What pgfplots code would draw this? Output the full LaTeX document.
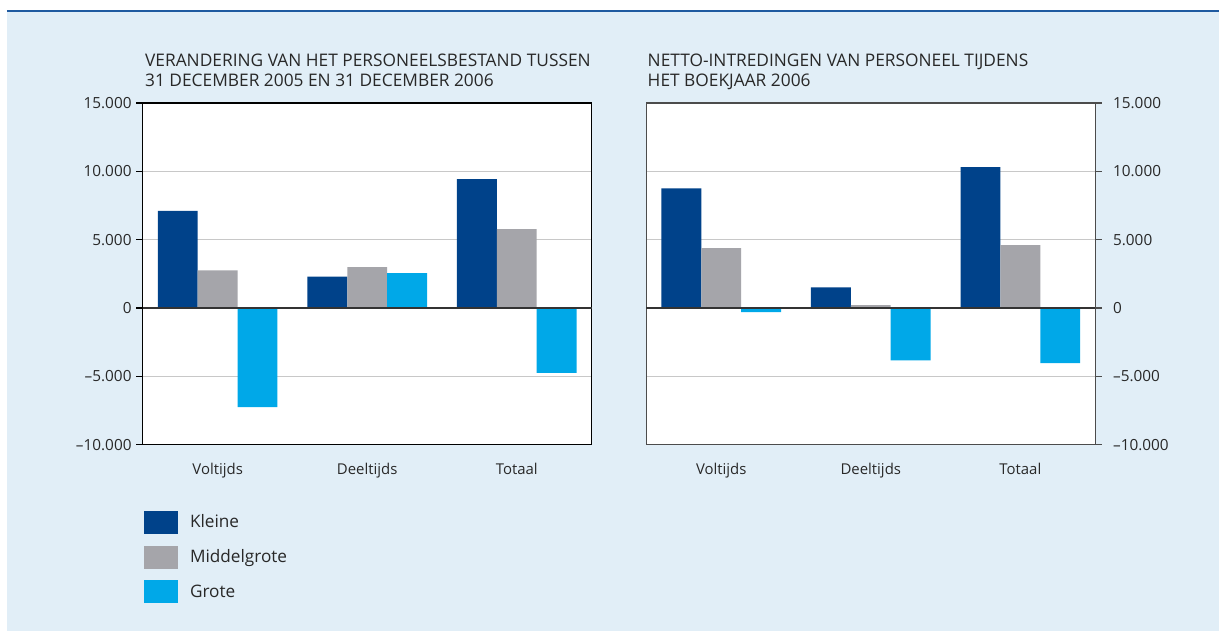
\documentclass[border=0pt]{standalone}
\usepackage{fontspec}
\setmainfont{Open Sans}
\usepackage{pgfplots}
\usepackage{pgfplotstable}
\pgfplotsset{compat=1.18}
\definecolor{kleine}{RGB}{0,66,138}
\definecolor{middel}{RGB}{165,165,170}
\definecolor{grote}{RGB}{0,168,232}
\definecolor{bgblue}{RGB}{225,238,247}
\definecolor{topline}{RGB}{31,90,160}
\definecolor{gridc}{RGB}{200,200,200}
\definecolor{textc}{RGB}{40,40,40}

\pgfplotstableread{
x kleine middel grote
0 7100 2750 -7250
1 2300 2980 2550
2 9420 5760 -4750
}\leftdata
\pgfplotstableread{
x kleine middel grote
0 8750 4370 -300
1 1500 200 -3830
2 10300 4590 -4030
}\rightdata

\pgfplotsset{
 panel/.style={
  scale only axis, width=336.75pt, height=256.5pt,
  ybar, bar width=0.2667,
  xmin=-0.5, xmax=2.5, ymin=-10000, ymax=15000,
  scaled y ticks=false,
  xtick={0,1,2}, xticklabels={Voltijds, Deeltijds, Totaal},
  xtick style={draw=none},
  xticklabel style={font=\fontsize{11.2}{13}\selectfont, text=textc, yshift=-5pt},
  ytick={-10000,-5000,0,5000,10000,15000},
  yticklabels={–10.000,–5.000,0,5.000,10.000,15.000},
  yticklabel style={font=\fontsize{11.5}{13}\selectfont, text=textc},
  ymajorgrids, grid style={gridc, line width=0.9pt},
  tick align=outside, major tick length=5pt,
  ytick style={line width=0.9pt, color=#1},
  axis line style={line width=0.9pt, draw=#1},
  axis background/.style={fill=white},
  clip=false,
 },
 kbar/.style={fill=kleine, draw=none, bar shift=-0.2667,
   legend image code/.code={\fill[kleine] (0pt,-8.6pt) rectangle (25.5pt,8.6pt);}},
 mbar/.style={fill=middel, draw=none, bar shift=0,
   legend image code/.code={\fill[middel] (0pt,-8.6pt) rectangle (25.5pt,8.6pt);}},
 gbar/.style={fill=grote, draw=none, bar shift=0.2667,
   legend image code/.code={\fill[grote] (0pt,-8.6pt) rectangle (25.5pt,8.6pt);}},
}

\begin{document}
\begin{tikzpicture}
\path (0pt,0pt) rectangle (915pt,474pt);
\fill[bgblue] (5.25pt,0pt) rectangle (915pt,465pt);
\draw[topline, line width=1.5pt] (5.25pt,465.4pt) -- (915pt,465.4pt);

\node[anchor=base west, align=left, font=\fontsize{13}{15}\selectfont, text=textc, inner sep=0pt]
  at (108.75pt,408.75pt) {VERANDERING VAN HET PERSONEELSBESTAND TUSSEN\\31 DECEMBER 2005 EN 31 DECEMBER 2006};
\node[anchor=base west, align=left, font=\fontsize{13}{15}\selectfont, text=textc, inner sep=0pt]
  at (486pt,408.75pt) {NETTO-INTREDINGEN VAN PERSONEEL TIJDENS\\HET BOEKJAAR 2006};

\begin{axis}[panel={black}, at={(107.25pt,140.25pt)}, anchor=south west,
  ytick pos=left,
  legend style={at={(0.002,-0.1925)}, anchor=north west, draw=none, fill=none,
    inner sep=0pt, row sep=9pt, font=\fontsize{12.9}{14}\selectfont, text=textc,
    nodes={inner sep=0pt, text=textc}},
  legend cell align=left]
\addplot[kbar] table[x=x, y=kleine] {\leftdata};
\addlegendentry{\hspace{9pt}Kleine}
\addplot[mbar] table[x=x, y=middel] {\leftdata};
\addlegendentry{\hspace{9pt}Middelgrote}
\addplot[gbar] table[x=x, y=grote] {\leftdata};
\addlegendentry{\hspace{9pt}Grote}
\draw[black!80, line width=1pt] (axis cs:-0.5,0) -- (axis cs:2.5,0);
\end{axis}

\begin{axis}[panel={black!70}, at={(485.25pt,140.25pt)}, anchor=south west,
  ytick pos=right, yticklabel pos=right,
  yticklabel style={xshift=5pt}]
\addplot[kbar] table[x=x, y=kleine] {\rightdata};
\addplot[mbar] table[x=x, y=middel] {\rightdata};
\addplot[gbar] table[x=x, y=grote] {\rightdata};
\draw[black!80, line width=1pt] (axis cs:-0.5,0) -- (axis cs:2.5,0);
\end{axis}
\end{tikzpicture}
\end{document}
